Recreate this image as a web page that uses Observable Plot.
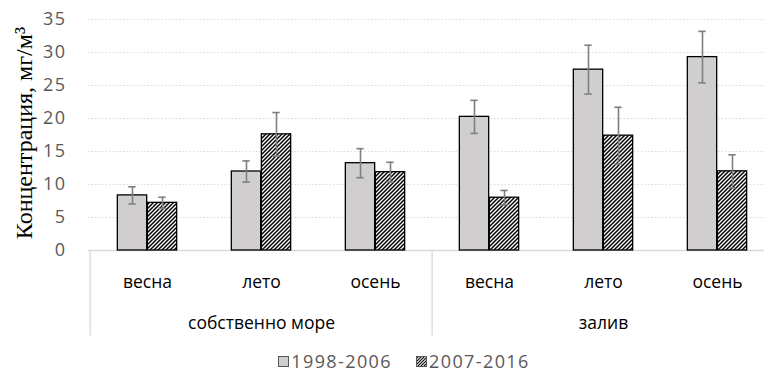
<!DOCTYPE html>
<html><head><meta charset="utf-8">
<script src="https://cdn.jsdelivr.net/npm/d3@7"></script>
<script src="https://cdn.jsdelivr.net/npm/@observablehq/plot@0.6"></script>
<style>
body{margin:0;background:#fff;overflow:hidden;}
#chart svg{display:block;}
#chart g[aria-label="y-axis tick label"] text{letter-spacing:1.4px;}
#legend{height:22px;line-height:22px;padding-top:10px;display:flex;justify-content:center;align-items:center;gap:24px;margin-left:44px;font-family:"Open Sans",sans-serif;font-size:18px;letter-spacing:1.4px;color:#595959;}
#legend .item{display:flex;align-items:center;}
#legend svg{margin-right:2px;}
</style></head>
<body><div id="chart"></div><div id="legend"></div>
<script>
const groups = ["собственно море", "залив"];
const seasons = ["весна", "лето", "осень"];
const periods = ["1998-2006", "2007-2016"];
const means1 = [8.35, 11.97, 13.23, 20.25, 27.4, 29.3];
const errs1  = [1.3, 1.6, 2.2, 2.5, 3.7, 3.9];
const means2 = [7.22, 17.6, 11.87, 8.0, 17.4, 12.0];
const errs2  = [0.85, 3.3, 1.5, 1.1, 4.3, 2.5];
const yTicks = [0, 5, 10, 15, 20, 25, 30, 35];
const yTitle = "Концентрация, мг/м³";

const keys = groups.flatMap(g => seasons.map(s => g + "|" + s));
const rows1 = keys.map((k, i) => ({key: k, period: periods[0], mean: means1[i], err: errs1[i]}));
const rows2 = keys.map((k, i) => ({key: k, period: periods[1], mean: means2[i], err: errs2[i]}));
const groupLabels = groups.map(g => ({key: g + "|" + seasons[1], label: g}));
const groupStarts = groups.map(g => g + "|" + seasons[0]);

const GRAY = "#d0cece";
const xRange = [88, 776];
const bw = (xRange[1] - xRange[0]) / keys.length;
const barW = 30;
const side = bw / 2 - barW;

function hatchDefs() {
  const ns = "http://www.w3.org/2000/svg";
  const defs = document.createElementNS(ns, "defs");
  defs.innerHTML = `<pattern id="hatch" patternUnits="userSpaceOnUse" width="4" height="4">
    <rect width="4" height="4" fill="white"/>
    <path d="M-1,1 l2,-2 M0,4 l4,-4 M3,5 l2,-2" stroke="black" stroke-width="1.5"/>
  </pattern>`;
  return defs;
}

const chart = Plot.plot({
  width: 764,
  height: 340,
  marginTop: 19,
  marginBottom: 90,
  marginLeft: 88,
  marginRight: 0,
  style: {fontFamily: "'Open Sans', sans-serif", fontSize: "17px", color: "#595959", background: "white"},
  x: {type: "band", domain: keys, range: xRange, padding: 0, axis: null},
  y: {domain: [0, 35]},
  marks: [
    () => hatchDefs(),
    Plot.ruleY(yTicks.filter(d => d > 0), {stroke: "#d9d9d9", strokeWidth: 1, strokeDasharray: "1.5,2"}),
    Plot.ruleX(groupStarts, {x: d => d, y1: 0, y2: -13, dx: -bw / 2, stroke: "#d9d9d9", strokeWidth: 1.3}),
    Plot.ruleY([0], {stroke: "#d9d9d9", strokeWidth: 1.3}),
    Plot.barY(rows1, {x: "key", y: "mean", fill: GRAY, stroke: "black", strokeWidth: 1.3, insetLeft: side, insetRight: bw / 2}),
    Plot.barY(rows2, {x: "key", y: "mean", fill: "url(#hatch)", stroke: "black", strokeWidth: 1.3, insetLeft: bw / 2, insetRight: side}),
    Plot.ruleX(rows1, {x: "key", y1: d => d.mean - d.err, y2: d => d.mean + d.err, dx: -barW / 2, stroke: "#7f7f7f", strokeWidth: 1.6}),
    Plot.ruleX(rows2, {x: "key", y1: d => d.mean - d.err, y2: d => d.mean + d.err, dx: barW / 2, stroke: "#7f7f7f", strokeWidth: 1.6}),
    Plot.tickY(rows1.flatMap(d => [d.mean - d.err, d.mean + d.err].map(v => ({key: d.key, v}))), {x: "key", y: "v", dx: -barW / 2, insetLeft: bw / 2 - 4, insetRight: bw / 2 - 4, stroke: "#7f7f7f", strokeWidth: 1.6}),
    Plot.tickY(rows2.flatMap(d => [d.mean - d.err, d.mean + d.err].map(v => ({key: d.key, v}))), {x: "key", y: "v", dx: barW / 2, insetLeft: bw / 2 - 4, insetRight: bw / 2 - 4, stroke: "#7f7f7f", strokeWidth: 1.6}),
    Plot.axisY(yTicks, {tickSize: 0, tickPadding: 22, fontSize: 18, fill: "#595959", label: null}),
    Plot.text(keys, {x: d => d, text: d => d.split("|")[1], frameAnchor: "bottom", lineAnchor: "middle", dy: 31.5, fill: "#000", fontSize: 17.5}),
    Plot.text(groupLabels, {x: "key", text: "label", frameAnchor: "bottom", lineAnchor: "middle", dy: 72.5, fill: "#000", fontSize: 17.5}),
    Plot.text([yTitle], {frameAnchor: "left", textAnchor: "middle", lineAnchor: "middle", rotate: -90, dx: -64, dy: -2, fontFamily: "'Liberation Serif', serif", fontSize: 24, fill: "black"})
  ]
});
document.getElementById("chart").appendChild(chart);

const legend = document.getElementById("legend");
periods.forEach((p, i) => {
  const item = document.createElement("div");
  item.className = "item";
  const fill = i === 0 ? GRAY : "url(#lhatch)";
  item.innerHTML = `<svg width="11" height="11"><defs><pattern id="lhatch" patternUnits="userSpaceOnUse" width="3" height="3"><rect width="3" height="3" fill="white"/><path d="M-1,1 l2,-2 M0,3 l3,-3 M2,4 l2,-2" stroke="black" stroke-width="1.1"/></pattern></defs><rect x="0.5" y="0.5" width="10" height="10" fill="${fill}" stroke="#595959" stroke-width="1"/></svg><span>${p}</span>`;
  legend.appendChild(item);
});
</script>
</body></html>
